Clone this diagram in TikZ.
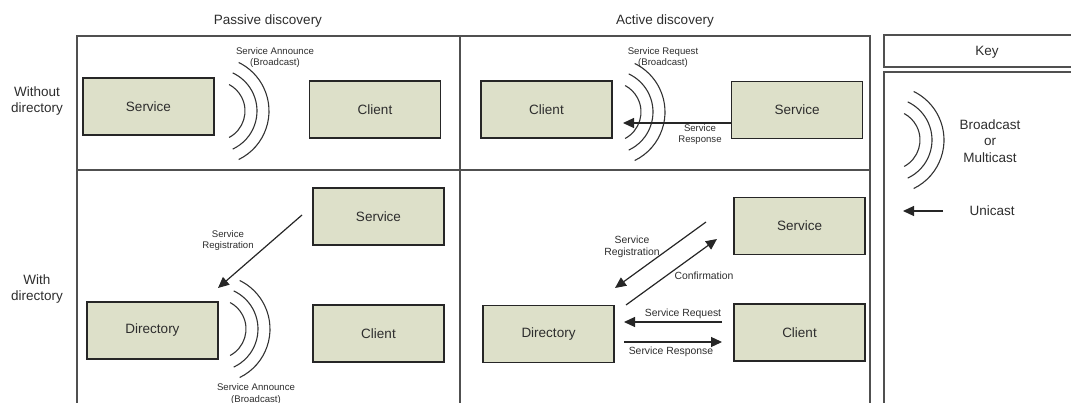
\documentclass[tikz,border=0pt]{standalone}
\usepackage{fontspec}
\setmainfont{Liberation Sans}
\usetikzlibrary{arrows.meta}
\definecolor{boxfill}{RGB}{221,224,201}
\definecolor{txt}{RGB}{45,45,45}
\definecolor{framec}{RGB}{80,80,80}
\tikzset{
  frame/.style={draw=framec, line width=1.4pt},
  bx/.style={draw=black!85, line width=1.4pt, fill=boxfill, minimum width=131pt, minimum height=57pt, inner sep=0pt, font=\fontsize{13.5}{15}\selectfont, text=txt},
  hdr/.style={font=\fontsize{13.5}{16.5}\selectfont, text=txt, align=center, inner sep=0pt},
  lbl/.style={font=\fontsize{9.6}{11.5}\selectfont, text=txt, align=center, inner sep=0pt},
  lblb/.style={font=\fontsize{10.4}{12.5}\selectfont, text=txt, align=center, inner sep=0pt},
  wave/.style={draw=black!80, line width=1.1pt},
  uni/.style={draw=black!85, line width=1.2pt, -{Triangle[length=11pt,width=10pt]}},
  waves/.pic={
    \draw[wave] (62:30) arc (62:-62:30);
    \draw[wave] (65:42) arc (65:-65:42);
    \draw[wave] (64:54) arc (64:-64:54);
  }
}
\begin{document}
\begin{tikzpicture}[x=1pt,y=-1pt]
\useasboundingbox (0,0) rectangle (1071,403);
% frames
\draw[frame] (77,410) -- (77,36) -- (870,36) -- (870,410);
\draw[frame] (460,36) -- (460,410);
\draw[frame] (77,170) -- (870,170);
\draw[frame] (1080,35) -- (884,35) -- (884,67) -- (1080,67);
\draw[frame] (1080,72) -- (884,72) -- (884,410);
% headers
\node[hdr] (hpas) at (268,21) {Passive discovery};
\node[hdr] (hact) at (665,21) {Active discovery};
\node[hdr] (hkey) at (987,52) {Key};
\node[hdr] (hwo) at (37,101) {Without\\directory};
\node[hdr] (hw) at (37,289) {With\\directory};
% top-left
\node[bx] (tlsvc) at (148.5,106.5) {Service};
\node[bx] (tlcli) at (375,109.5) {Client};
\pic at (215,111) {waves};
\node[lbl] (tlann) at (275,57.5) {Service Announce\\(Broadcast)};
% top-right
\node[bx] (trcli) at (546.5,109.5) {Client};
\node[bx] (trsvc) at (797,110) {Service};
\pic at (611,112) {waves};
\coordinate (trtip) at (623,123);
\draw[uni] (trsvc.west |- trtip) -- (trtip);
\node[lbl] (trreq) at (663,57.5) {Service Request\\(Broadcast)};
\node[lbl] (trresp) at (700,134.5) {Service\\Response};
% bottom-left
\node[bx] (blsvc) at (378.5,216.5) {Service};
\node[bx] (blcli) at (378.5,333.5) {Client};
\node[bx] (bldir) at (152.5,330.5) {Directory};
\coordinate (blrs) at (302,215);
\coordinate (blre) at (218,288);
\draw[uni] (blrs) -- (blre);
\node[lbl] (blreg) at (228,240.5) {Service\\Registration};
\pic at (216,329) {waves};
\node[lbl] (blann) at (256,394) {Service Announce\\(Broadcast)};
% bottom-right
\node[bx] (brsvc) at (799.5,226) {Service};
\node[bx] (brcli) at (799.5,332.5) {Client};
\node[bx] (brdir) at (548.5,334) {Directory};
\coordinate (brrs) at (706,222);
\coordinate (brre) at (615,288);
\coordinate (brcs) at (626,305);
\coordinate (brce) at (717,239);
\coordinate (brqs) at (722,322);
\coordinate (brqe) at (624,322);
\coordinate (brps) at (624,342);
\coordinate (brpe) at (722,342);
\draw[uni] (brrs) -- (brre);
\draw[uni] (brcs) -- (brce);
\draw[uni] (brqs) -- (brqe);
\draw[uni] (brps) -- (brpe);
\node[lblb] (brreg) at (632,247) {Service\\Registration};
\node[lblb] (brconf) at (704,276) {Confirmation};
\node[lblb] (brreq) at (683,314) {Service Request};
\node[lblb] (brresp) at (671,352) {Service Response};
% key
\pic at (890,140) {waves};
\node[hdr] (kbc) at (990,141) {Broadcast\\or\\Multicast};
\coordinate (kus) at (943,211);
\coordinate (kue) at (903,211);
\draw[uni] (kus) -- (kue);
\node[hdr] (kuni) at (992,211) {Unicast};
\end{tikzpicture}
\end{document}
